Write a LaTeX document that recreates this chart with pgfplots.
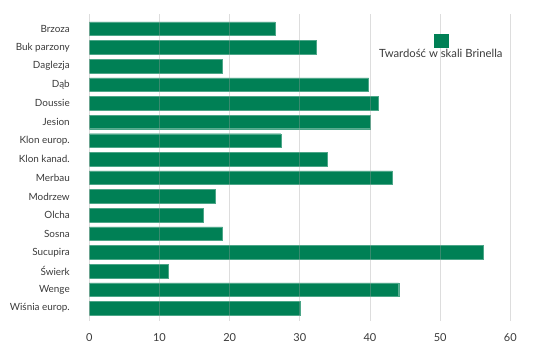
\documentclass[border=0pt]{standalone}
\usepackage{fontspec}
\setmainfont{Lato}
\usepackage{pgfplots}
\pgfplotsset{compat=1.18}
\definecolor{barc}{HTML}{008055}
\definecolor{txt}{HTML}{3A3A3A}
\begin{document}
\begin{tikzpicture}[x=1pt,y=1pt]
\useasboundingbox (0,0) rectangle (552,356);
\begin{axis}[
  at={(89.3pt,35.3pt)}, anchor=south west,
  scale only axis, width=421pt, height=306.7pt,
  xbar, bar width=13.6pt,
  xmin=0, xmax=60,
  ymin=-0.79, ymax=15.67, y dir=reverse,
  ytick={0,...,15},
  yticklabels={Brzoza,Buk parzony,Daglezja,Dąb,Doussie,Jesion,Klon europ.,Klon kanad.,Merbau,Modrzew,Olcha,Sosna,Sucupira,Świerk,Wenge,Wiśnia europ.},
  xtick={0,10,...,60},
  axis line style={draw=none},
  major tick length=0pt,
  xmajorgrids,
  grid style={color=black!38, opacity=0.35, line width=0.8pt},
  axis on top,
  /pgf/number format/assume math mode=true,
  yticklabel style={font=\fontsize{9.9}{11}\selectfont, text=txt, xshift=-16pt},
  xticklabel style={font=\fontsize{11}{13}\selectfont, text=txt, yshift=-9.5pt},
  legend style={at={(0.676,0.9)}, anchor=north west, draw=none, fill=none,
    font=\fontsize{11.3}{13}\selectfont, text=txt},
  legend image code/.code={\fill[barc, overlay] (57pt,7pt) rectangle ++(14pt,13pt);},
]
\addplot[fill=barc, draw=barc!70!white, line width=0.3pt] coordinates {
(26.5,0) (32.3,1) (19.0,2) (39.8,3) (41.2,4) (40.0,5) (27.3,6) (33.9,7)
(43.2,8) (18.0,9) (16.2,10) (19.0,11) (56.1,12) (11.2,13) (44.1,14) (30.1,15)
};
\addlegendentry{Twardość w skali Brinella}
\end{axis}
\end{tikzpicture}
\end{document}
